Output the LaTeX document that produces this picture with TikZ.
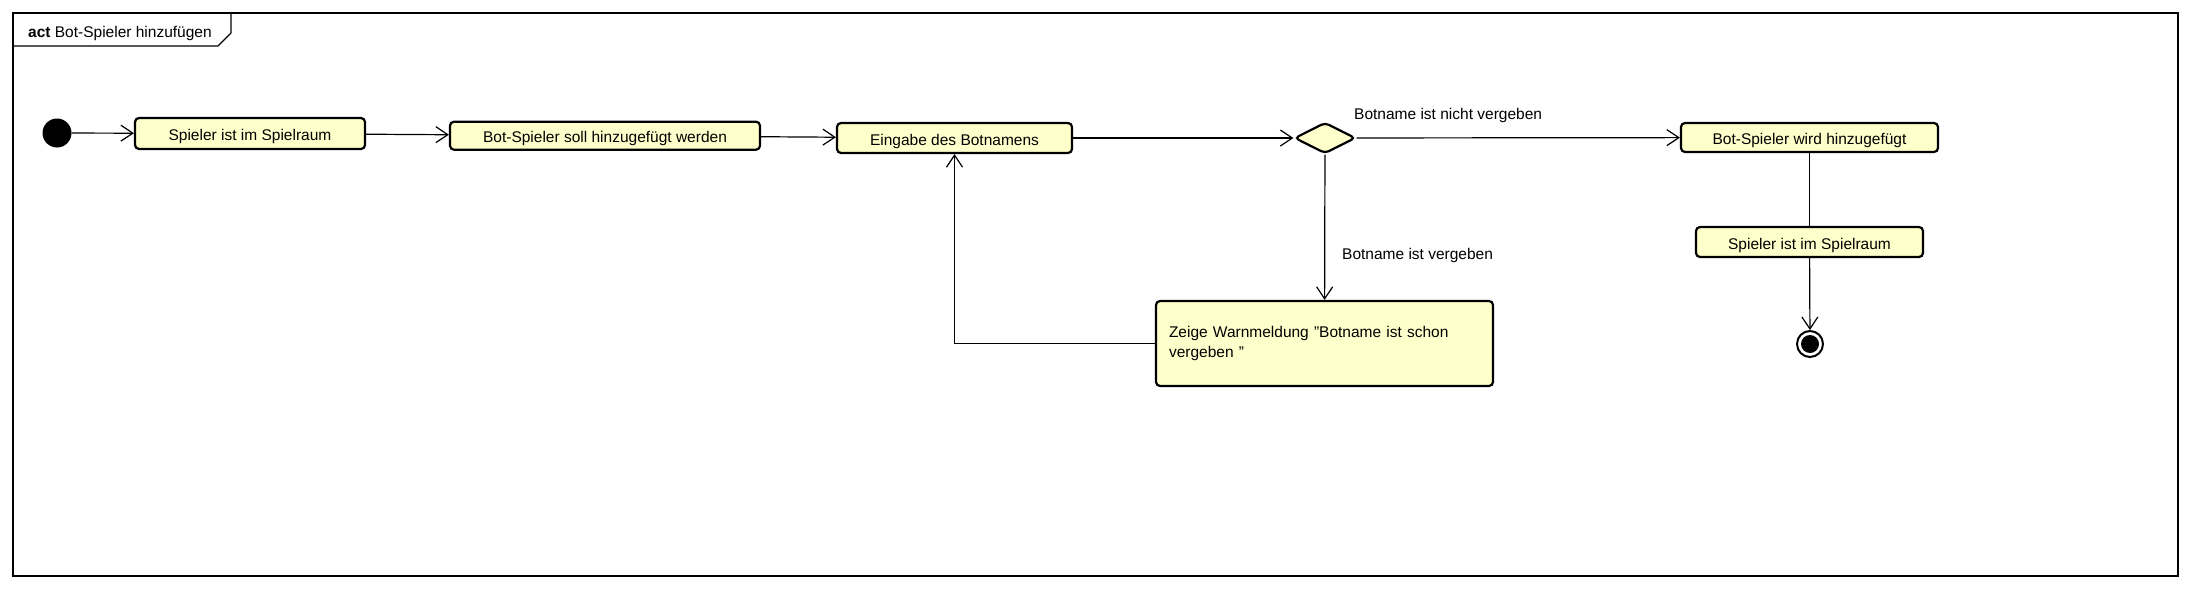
\documentclass[tikz,border=0pt]{standalone}
\usepackage{fontspec}
\setmainfont{Liberation Sans}
\usepackage{tikz}
\usetikzlibrary{shapes.geometric,arrows.meta}
\definecolor{actfill}{HTML}{FFFFCC}

\begin{document}
\begin{tikzpicture}[x=1pt,y=-1pt,
  font=\fontsize{15.5}{20}\selectfont,
  >={Straight Barb[length=12pt,width=16pt]},
  act/.style={draw, fill=actfill, rounded corners=4pt, line width=2.2pt, inner sep=0pt},
  oneline/.style={act, text height=14pt, text depth=0pt},
  lbl/.style={anchor=base west, inner sep=0pt},
  flow/.style={->, line width=1.2pt},
  plain/.style={line width=1.2pt}]
\useasboundingbox (0,0) rectangle (2190,589);
\draw[plain] (13,13) rectangle (2178,576);
\draw[plain] (13,46) -- (218,46) -- (231,33) -- (231,13);
\node[lbl] (titel) at (28,37.5) {\textbf{act} Bot-Spieler hinzufügen};
\node[circle, fill=black, minimum size=29pt, inner sep=0pt] (start) at (57,133) {};
\node[oneline, minimum width=230pt, minimum height=31pt] (raum) at (250,133.5) {Spieler ist im Spielraum};
\node[oneline, minimum width=310pt, minimum height=28pt] (soll) at (605,135.7) {Bot-Spieler soll hinzugefügt werden};
\node[oneline, minimum width=235pt, minimum height=30pt] (eingabe) at (954.5,138) {Eingabe des Botnamens};
\node[act, diamond, minimum width=61pt, minimum height=31pt] (wahl) at (1325,138) {};
\node[oneline, minimum width=257pt, minimum height=29pt] (hinzu) at (1809.5,137.5) {Bot-Spieler wird hinzugefügt};
\node[oneline, minimum width=227pt, minimum height=30pt] (raumb) at (1809.5,242) {Spieler ist im Spielraum};
\node[act, minimum height=85pt, inner xsep=13pt, text width=311pt, align=left] (warn) at (1324.5,343.5) {Zeige Warnmeldung "Botname ist schon\\vergeben "};
\node[circle, draw, line width=2pt, minimum size=26pt, inner sep=0pt,
  path picture={\fill (path picture bounding box.center) circle (9pt);}] (ende) at (1810,344) {};
\node[lbl] (frei) at (1354,119.5) {Botname ist nicht vergeben};
\node[lbl] (belegt) at (1342,259) {Botname ist vergeben};
\draw[flow] (start) -- (raum);
\draw[flow] (raum) -- (soll);
\draw[flow] (soll) -- (eingabe);
\draw[flow] (eingabe) -- (wahl);
\draw[flow] (wahl) -- (hinzu);
\draw[flow] (wahl) -- (warn);
\draw[flow] (warn.west) -| (eingabe.south);
\draw[plain] (hinzu) -- (raumb);
\draw[flow] (raumb) -- (ende);
\end{tikzpicture}
\end{document}
